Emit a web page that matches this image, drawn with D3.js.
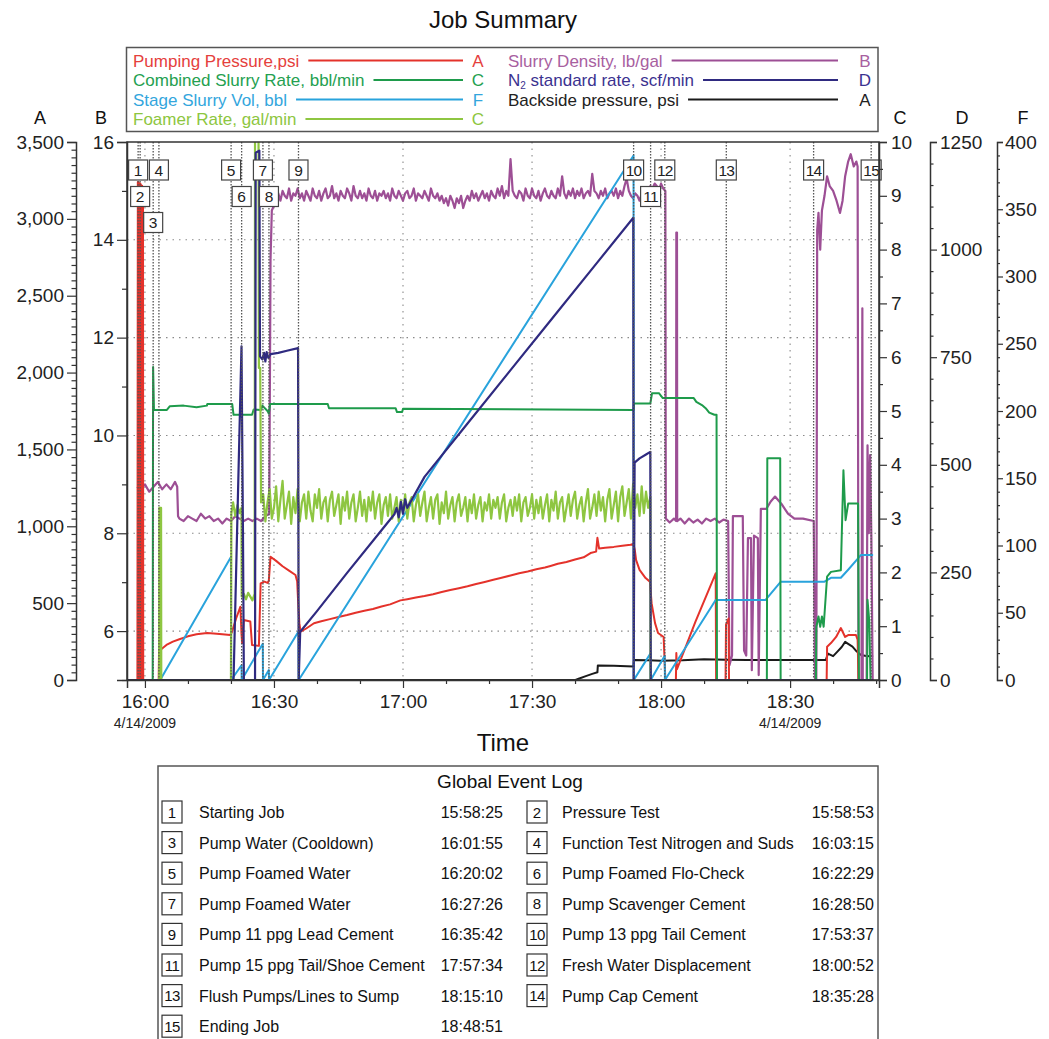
<!DOCTYPE html>
<html>
<head>
<meta charset="utf-8">
<script src="https://cdn.jsdelivr.net/npm/d3@7"></script>
<style>
body{margin:0;background:#fff}
text{font-family:"Liberation Sans",Arial,Helvetica,sans-serif}
</style>
</head>
<body>
<script>
// times are minutes after 16:00 on 4/14/2009
const pressurePts=[[-4.17,0],[-1.75,0],[-1.65,3240],[-1.55,0],[-1.45,3238],[-1.35,0],[-1.25,3232],[-1.15,0],[-1.05,3228],[-0.95,0],[-0.85,3220],[-0.75,0],[-0.65,3215],[-0.55,0],[-0.45,3205],[-0.4,0],
[3.2,0],[3.28,195],[4.0,205],[5.0,228],[6.5,250],[8,265],[10,284],[12,298],[14.46,306],[16,302],[18,297],[19.8,293],
[20.2,310],[21.2,400],[22.2,477],[22.45,300],[22.6,240],[23.0,390],[24.5,380],[24.9,228],[26.5,222],[26.9,629],[27.8,640],[28.5,632],[28.8,645],[29.2,802],[30.5,775],[32,740],[33.5,712],[35.0,683],[35.4,640],[35.6,520],[35.9,370],[36.2,314],
[37.5,335],[39.3,369],[41,382],[43,396],[45,410],[47,423],[49,438],[51,450],[53,462],[55,478],[57,492],[59.4,518],[61,526],[63,536],[65,546],[67,558],[69,572],[71,585],[73,597],[75,610],[77,625],[79,638],[81,652],[82.7,664],[85,680],[87,694],[89,706],[91,720],[93,732],[94.3,742],[96,756],[98,768],[100,784],[102,798],[103.6,826],[104.9,835],[105.2,925],[105.6,855],[107,860],[109,866],[111,874],[112.9,880],[113.55,885],
[113.9,845],[114.2,780],[115,716],[116.4,663],[117.4,640],[117.8,500],[118.6,370],[119.3,306],[120.6,280],[121.0,0],
[123.45,0],[123.55,175],[123.7,70],[128,380],[132.7,694],[132.8,0],[135.0,0],[135.1,360],[135.7,400],[135.8,0],
[158.5,0],[158.6,217],[159.5,240],[160.7,280],[161.8,338],[162.8,280],[163.6,293],[165.3,293],[165.7,262],[165.9,0],[169.3,0]];

const backsidePts=[[-4.17,0],[100.1,0],[101,10],[102.5,25],[104,40],[105.2,50],[105.3,95],[109,92],[113.6,88],[113.7,130],[117,128],[120,125],[125,128],[130,135],[135,132],[140,130],[145,130],[150,130],[155,130],[158.3,130],[158.8,172],[160,155],[161,185],[162,215],[162.8,248],[163.5,235],[164.5,217],[165.5,185],[166.5,163],[168,155],[169.3,158]];

const slurryRatePts=[[-4.17,0],[1.8,0],[1.9,5.82],[2.1,5.02],[5.1,5.02],[5.8,5.09],[9,5.1],[12,5.07],[14.4,5.1],[14.5,5.13],[20.3,5.13],[20.6,4.93],[24.9,4.93],[25.3,5.03],[27.0,5.02],[27.3,5.1],[28.5,5.0],[28.8,4.95],[29.1,5.13],[42.5,5.13],[42.8,5.05],[58.3,5.05],[58.6,4.98],[59.8,4.98],[60.0,5.04],[113.6,5.02],[113.7,5.14],[117.5,5.14],[117.9,5.33],[119.5,5.33],[120.4,5.24],[127.6,5.24],[128.2,5.17],[129.5,5.11],[130.5,5.04],[131.2,4.97],[132.4,4.93],[132.9,4.93],[133.0,0],[144.6,0],[144.7,4.12],[147.7,4.12],[147.8,0],[156.0,0],[156.1,0.99],[156.6,1.18],[157.0,0.99],[157.4,1.18],[157.8,0.99],[158.6,1.92],[159.5,2.01],[161.8,2.04],[162.4,3.9],[162.9,2.97],[163.5,3.28],[165.8,3.28],[166.0,0],[167.9,0],[168.0,1.49],[168.4,1.1],[168.7,0],[169.3,0]];

const stageVolPts=[[-4.17,0],[3.55,0],[20.0,91.5],[20.05,0],[22.45,11],[22.5,0],[27.4,27],[27.45,0],[28.8,7.4],[28.85,0],[35.7,36],[35.75,0],[113.6,390],[113.65,0],[117.55,19.8],[117.6,0],[120.85,18],[120.9,0],[132.7,59.5],[144.3,59.5],[147.8,73],[157.9,73],[159.5,76],[161.8,76],[163.5,82],[166.5,93],[169.3,93]];

const foamerPts=[[-4.17,0],[3.3,0],[3.35,3.2],[3.75,3.2],[3.8,0],[20.0,0],[20.1,3.1],[20.5,3.3],[21,3.05],[21.5,3.25],[22,3.1],[22.45,3.2],[22.5,1.55],[23,1.6],[23.5,1.5],[24,1.62],[24.5,1.55],[25,1.48],[25.5,1.6],[25.6,10.5],[26.4,10.5],[26.5,5.8],[26.8,5.8],[27.0,3.3]];
// sampled every 0.5 min from 16:27:30
const foamerBandStart=27.5, foamerBandStep=0.5;
const foamerBand=[3.45,2.95,3.3,3.55,3.0,3.2,3.6,2.95,3.35,3.7,
3.0,3.25,3.5,2.9,3.4,3.1,3.55,2.95,3.3,3.45,
3.0,3.5,3.15,2.95,3.45,3.2,3.55,3.0,3.3,3.4,
2.95,3.35,3.5,3.05,3.25,3.45,2.9,3.4,3.15,3.5,
3.0,3.3,3.45,2.95,3.2,3.5,3.05,3.35,2.95,3.4,
3.15,3.5,3.0,3.3,3.45,2.9,3.25,3.4,3.05,3.45,
3.0,3.2,3.4,2.95,3.35,3.1,3.45,3.0,3.3,3.4,
2.95,3.25,3.45,3.05,3.3,3.5,2.95,3.2,3.4,3.0,
3.35,3.45,2.9,3.3,3.1,3.5,3.0,3.25,3.4,2.95,
3.3,3.45,3.05,3.2,3.4,2.95,3.35,3.1,3.45,3.0,
3.25,3.4,2.95,3.3,3.15,3.45,3.0,3.35,3.2,3.4,
3.0,3.3,3.45,2.95,3.2,3.35,3.05,3.4,3.15,3.45,
2.95,3.3,3.4,3.05,3.2,3.45,3.0,3.35,3.1,3.4,
3.0,3.25,3.45,2.95,3.35,3.15,3.5,3.0,3.3,3.4,
2.95,3.2,3.45,3.05,3.35,3.5,3.0,3.25,3.4,2.95,
3.3,3.55,3.0,3.2,3.45,3.05,3.5,3.15,3.4,2.95,
3.35,3.55,3.0,3.25,3.5,2.95,3.4,3.6,3.05,3.3,
3.55,3.0,3.65,3.2,3.45,3.05,3.6,3.1,3.5,3.2,
3.4];
const foamerTail=[[117.55,0],[169.3,0]];

const densityPts=[[-1.84,8.95],[-1,8.9],[0,9.0],[1,8.85],[2,8.95],[3,9.05],[4,8.9],[5,9.0],[6,8.9],[7,9.05],[7.5,8.95],[7.7,8.35],[8,8.3],[9,8.25],[10,8.35],[11,8.3],[12,8.25],[13,8.4],[14,8.3],[15,8.35],[16,8.25],[17,8.3],[18,8.2],[19,8.3],[20,8.25],[21,8.35],[22,8.3],[23,8.25],[24,8.3],[25,8.25],[26,8.3],[27,8.25],[28,8.35],[28.9,8.4],[29.2,13.6],[29.5,14.6]];
// sampled every 0.5 min from 16:30:00
const densityBandStart=30, densityBandStep=0.5;
const densityBand=[14.7,14.85,14.95,14.8,15.0,14.9,14.85,15.05,14.8,14.95,
14.9,15.05,14.85,14.95,14.8,15.0,14.9,14.8,15.05,14.9,
14.85,15.0,14.8,14.95,15.05,14.85,14.9,15.1,14.85,14.95,
14.8,15.0,14.9,14.85,15.05,14.95,14.8,15.1,14.9,14.85,
15.0,14.85,14.95,14.8,15.05,14.9,14.85,15.0,14.8,14.95,
14.9,15.0,14.85,14.95,14.8,15.05,14.9,14.85,15.0,14.9,
14.8,14.95,15.0,14.85,14.9,15.05,14.8,14.95,14.9,14.85,
15.0,14.9,14.8,15.05,14.9,14.85,14.95,14.8,14.9,14.75,
14.85,14.7,14.9,14.8,14.65,14.85,14.75,14.9,14.65,14.8,
14.9,14.8,15.0,14.85,14.95,14.8,14.9,15.0,14.85,14.95,
14.8,15.0,14.9,14.85,15.05,14.9,15.1,14.85,15.0,14.9,
15.65,15.0,14.9,14.85,15.0,14.95,14.8,15.05,14.9,14.85,
15.05,14.9,14.85,15.0,14.8,14.95,15.05,14.9,14.85,15.0,
14.9,14.85,15.05,14.9,15.3,14.95,14.85,15.0,14.9,15.05,
14.85,15.0,14.9,15.05,14.85,14.95,15.0,14.9,15.35,15.0,
14.95,14.85,15.0,14.9,15.05,14.85,14.95,15.0,14.9,15.05,
14.85,15.0,14.9,15.1,15.25,15.0,14.9,14.85,14.95,14.9,
14.8,14.95,14.85,14.9,15.0,15.1,15.05,15.15,15.1,15.0,
15.15,15.05,15.0];
const densityTail=[[121.1,8.3],[122,8.22],[123,8.3],[123.5,8.25],[123.55,14.15],[123.7,14.15],[123.75,8.25],[124.5,8.3],[125.5,8.2],[126.5,8.3],[127.5,8.22],[128.5,8.28],[129.5,8.2],[130.5,8.3],[131.5,8.25],[132.5,8.3],[133.5,8.22],[134.5,8.28],[135.6,8.25],
[135.9,5.3],[136.5,5.5],[136.7,8.35],[139.0,8.35],[139.3,5.6],[139.8,5.5],[140.2,7.9],[140.9,7.9],[141.1,5.2],[141.6,7.95],[142.5,7.9],[142.7,5.1],[143.2,8.5],[144.5,8.5],[145.5,8.65],[146.5,8.75],[148.0,8.6],[149.5,8.4],[151.0,8.3],[153,8.3],[155.5,8.25],[155.8,5.0],[156.1,5.0],[156.3,14.2],[156.6,14.55],[157.0,13.8],[157.4,14.6],[158.0,14.9],[158.6,15.3],[159.2,15.1],[160,15.0],[160.8,14.8],[161.6,14.55],[162.2,14.8],[162.8,15.3],[163.5,15.6],[164.1,15.75],[164.8,15.5],[165.4,15.6],[165.7,15.5],[165.9,5.0],[166.6,5.0],[166.8,12.6],[166.9,5.0],[167.8,5.0],[168.0,9.8],[168.3,8.0],[168.6,9.6],[168.9,7.9],[169.2,5.0]];

const n2Pts=[[-4.17,0],[20.6,0],[22.45,775],[22.8,330],[23.0,0],[25.6,0],[25.75,1225],[26.6,1230],[26.75,752],[27.3,745],[27.7,760],[28.0,740],[28.3,762],[28.7,748],[29.2,757],[31,760],[33,765],[35.6,771],[35.75,0],[36.1,112],[40,160],[47,249],[55,348],[58,385],[58.5,400],[59,378],[59.5,414],[60,386],[60.5,420],[61,400],[65,472],[75,596],[85,720],[95,844],[105,968],[113.55,1074],[113.62,0],[113.85,505],[115,515],[116.5,524],[117.5,530],[117.6,0],[169.3,0]];

const eventNums=[1,2,3,4,5,6,7,8,9,10,11,12,13,14,15];
const eventNames=["Starting Job","Pressure Test","Pump Water (Cooldown)","Function Test Nitrogen and Suds","Pump Foamed Water","Pump Foamed Flo-Check","Pump Foamed Water","Pump Scavenger Cement","Pump 11 ppg Lead Cement","Pump 13 ppg Tail Cement","Pump 15 ppg Tail/Shoe Cement","Fresh Water Displacement","Flush Pumps/Lines to Sump","Pump Cap Cement","Ending Job"];
const eventTimes=["15:58:25","15:58:53","16:01:55","16:03:15","16:20:02","16:22:29","16:27:26","16:28:50","16:35:42","17:53:37","17:57:34","18:00:52","18:15:10","18:35:28","18:48:51"];

const axisATicks=[0,500,1000,1500,2000,2500,3000,3500];
const axisBTicks=[6,8,10,12,14,16];
const axisCTicks=[0,1,2,3,4,5,6,7,8,9,10];
const axisDTicks=[0,250,500,750,1000,1250];
const axisFTicks=[0,50,100,150,200,250,300,350,400];
const timeTicks=["16:00","16:30","17:00","17:30","18:00","18:30"];

const W=1049,H=1039;
const L=127,R=879,T=142,B=680;
const t0=new Date(2009,3,14,16,0,0);
const toDate=m=>new Date(+t0+m*60000);
const hms=s=>{const p=s.split(":").map(Number);return new Date(2009,3,14,p[0],p[1],p[2]||0)};

const x=d3.scaleTime().domain([toDate(-4.17),toDate(170.67)]).range([L,R]);
const yA=d3.scaleLinear().domain([0,3500]).range([B,T]);
const yB=d3.scaleLinear().domain([5,16]).range([B,T]);
const yC=d3.scaleLinear().domain([0,10]).range([B,T]);
const yD=d3.scaleLinear().domain([0,1250]).range([B,T]);
const yF=d3.scaleLinear().domain([0,400]).range([B,T]);

const col={red:"#e4322b",green:"#1e9b4b",blue:"#29a3dc",lime:"#8ec641",purple:"#9d4f95",navy:"#2f2a80",black:"#1a1a1a"};

const svg=d3.create("svg").attr("width",W).attr("height",H).attr("viewBox",`0 0 ${W} ${H}`);
d3.select("body").append(()=>svg.node());

// title
svg.append("text").attr("x",503).attr("y",28).attr("text-anchor","middle")
  .attr("font-size",24).attr("fill","#111").text("Job Summary");

// legend
svg.append("rect").attr("x",126.5).attr("y",47.5).attr("width",751.5).attr("height",84)
  .attr("fill","#fff").attr("stroke","#555").attr("stroke-width",1.5);
const legLeft=[["Pumping Pressure,psi",col.red,"A","#e5403c"],["Combined Slurry Rate, bbl/min",col.green,"C","#24a050"],["Stage Slurry Vol, bbl",col.blue,"F","#33a6dd"],["Foamer Rate, gal/min",col.lime,"C","#8dc63f"]];
const legRight=[["Slurry Density, lb/gal",col.purple,"B","#a8609f"],["N2 standard rate, scf/min",col.navy,"D","#3b3290"],["Backside pressure, psi",col.black,"A","#222"]];
function legendCol(items,tx,lineEnd,lx){
  items.forEach((d,i)=>{
    const yb=66.5+i*19.5;
    const t=svg.append("text").attr("x",tx).attr("y",yb).attr("font-size",17).attr("fill",d[3]);
    if(d[0].startsWith("N2")){
      t.append("tspan").text("N");
      t.append("tspan").attr("font-size",10).attr("dy",3).text("2");
      t.append("tspan").attr("dy",-3).text(" standard rate, scf/min");
    } else t.text(d[0]);
    const w=t.node().getComputedTextLength();
    svg.append("line").attr("x1",tx+w+9).attr("x2",lineEnd).attr("y1",yb-6).attr("y2",yb-6)
      .attr("stroke",d[1]).attr("stroke-width",2.2);
    svg.append("text").attr("x",lx).attr("y",yb).attr("text-anchor","middle").attr("font-size",17)
      .attr("fill",d[3]).text(d[2]);
  });
}
legendCol(legLeft,133,463,478);
legendCol(legRight,508,838,865);

// grid
const grid=svg.append("g").attr("stroke","#8a8a8a").attr("stroke-width",1.1).attr("stroke-dasharray","1.5,5");
[6,8,10,12,14].forEach(v=>grid.append("line").attr("x1",L).attr("x2",R).attr("y1",yB(v)).attr("y2",yB(v)));
timeTicks.forEach(s=>grid.append("line").attr("x1",x(hms(s))).attr("x2",x(hms(s))).attr("y1",T).attr("y2",B));

// data lines
svg.append("clipPath").attr("id","plotclip").append("rect").attr("x",L).attr("y",T).attr("width",R-L).attr("height",B-T);
const plot=svg.append("g").attr("clip-path","url(#plotclip)");
function draw(pts,y,color,w){
  plot.append("path").datum(pts).attr("fill","none").attr("stroke",color).attr("stroke-width",w)
    .attr("stroke-linejoin","round")
    .attr("d",d3.line().x(d=>x(toDate(d[0]))).y(d=>y(d[1])));
}
const foamerAll=foamerPts.concat(foamerBand.map((v,i)=>[foamerBandStart+i*foamerBandStep,v]),foamerTail);
const densityAll=densityPts.concat(densityBand.map((v,i)=>[densityBandStart+i*densityBandStep,v]),densityTail);
draw(backsidePts,yA,col.black,2);
draw(densityAll,yB,col.purple,2.2);
draw(pressurePts,yA,col.red,2);
draw(stageVolPts,yF,col.blue,2);
draw(slurryRatePts,yC,col.green,2);
draw(foamerAll,yC,col.lime,2.2);
draw(n2Pts,yD,col.navy,2.2);

// event markers
const evG=svg.append("g");
const labelRow=[0,1,2,0,0,1,0,1,0,0,1,0,0,0,0];
const rowY=[170,196.5,222.5];
eventTimes.forEach(s=>{
  const ex=x(hms(s));
  evG.append("line").attr("x1",ex).attr("x2",ex).attr("y1",T).attr("y2",B)
    .attr("stroke","#555").attr("stroke-width",1.3).attr("stroke-dasharray","1.5,1.5");
});
eventTimes.forEach((s,i)=>{
  const ex=x(hms(s)),cy=rowY[labelRow[i]];
  const bw=eventNums[i]>9?20:19;
  evG.append("rect").attr("x",ex-bw/2).attr("y",cy-10).attr("width",bw).attr("height",20)
    .attr("fill","#fff").attr("stroke","#444").attr("stroke-width",1.2);
  evG.append("text").attr("x",ex).attr("y",cy+5.5).attr("text-anchor","middle").attr("font-size",15.5)
    .attr("fill","#222").attr("letter-spacing",eventNums[i]>9?-0.8:0).text(eventNums[i]);
});

// frame
svg.append("rect").attr("x",L).attr("y",T).attr("width",R-L).attr("height",B-T)
  .attr("fill","none").attr("stroke","#333").attr("stroke-width",1.5);

// axes
function styleAxis(g){
  g.selectAll(".domain").attr("stroke","#333").attr("stroke-width",1.5);
  g.selectAll(".tick line").attr("stroke","#333").attr("stroke-width",1.2);
  g.selectAll(".tick text").attr("font-size",19).attr("fill","#222")
    .attr("font-family",'"Liberation Sans",Arial,sans-serif');
}
function minors(lo,hi,step,majors){
  const out=[];
  for(let v=lo;v<=hi+1e-9;v+=step){const r=Math.round(v*100)/100;if(!majors.includes(r))out.push(r);}
  return out;
}
function vAxis(gen,scale,tx,majors,step,fmt,size,pad){
  svg.append("g").attr("transform",`translate(${tx},0)`)
    .call(gen(scale).tickValues(minors(scale.domain()[0],scale.domain()[1],step,majors)).tickSize(size*0.5).tickFormat(""))
    .call(g=>g.select(".domain").remove()).call(styleAxis);
  svg.append("g").attr("transform",`translate(${tx},0)`)
    .call(gen(scale).tickValues(majors).tickSize(size).tickPadding(pad).tickFormat(fmt))
    .call(styleAxis);
}
vAxis(d3.axisLeft,yA,76,axisATicks,50,d3.format(","),9,3);
vAxis(d3.axisLeft,yB,L,axisBTicks,1,d3.format("d"),10,3);
vAxis(d3.axisRight,yC,R,axisCTicks,0.5,d3.format("d"),8,4);
vAxis(d3.axisRight,yD,930,axisDTicks,50,d3.format("d"),7,3);
vAxis(d3.axisRight,yF,997,axisFTicks,10,d3.format("d"),6,2);

const tMaj=timeTicks.map(hms);
const tMin=[];
for(let m=0;m<=170;m+=10){if(m%30!==0)tMin.push(toDate(m));}
svg.append("g").attr("transform",`translate(0,${B})`)
  .call(d3.axisBottom(x).tickValues(tMin).tickSize(4).tickFormat(""))
  .call(g=>g.select(".domain").remove()).call(styleAxis);
svg.append("g").attr("transform",`translate(0,${B})`)
  .call(d3.axisBottom(x).tickValues(tMaj).tickSize(8).tickPadding(7).tickFormat(d3.timeFormat("%H:%M")))
  .call(styleAxis);
[hms("16:00"),hms("18:30")].forEach(d=>{
  svg.append("text").attr("x",x(d)).attr("y",728).attr("text-anchor","middle").attr("font-size",14)
    .attr("fill","#222").text(d3.timeFormat("%-m/%-d/%Y")(d));
});
svg.append("text").attr("x",503).attr("y",751).attr("text-anchor","middle").attr("font-size",24)
  .attr("fill","#111").text("Time");

// axis letters
[["A",40],["B",101],["C",900],["D",962],["F",1023]].forEach(d=>{
  svg.append("text").attr("x",d[1]).attr("y",124).attr("text-anchor","middle").attr("font-size",18)
    .attr("fill","#111").text(d[0]);
});

// event log
svg.append("rect").attr("x",158).attr("y",766).attr("width",720).attr("height",290)
  .attr("fill","#fff").attr("stroke","#555").attr("stroke-width",1.5);
svg.append("text").attr("x",510).attr("y",788).attr("text-anchor","middle").attr("font-size",19)
  .attr("fill","#111").text("Global Event Log");
eventNums.forEach((n,i)=>{
  const c=i%2,r=Math.floor(i/2);
  const cy=812+r*30.6;
  const bx=c?527:162, tx=c?562:199, rx=c?874:503;
  svg.append("rect").attr("x",bx).attr("y",cy-11).attr("width",20).attr("height",22)
    .attr("fill","#fff").attr("stroke","#333").attr("stroke-width",1.2);
  svg.append("text").attr("x",bx+10).attr("y",cy+5.5).attr("text-anchor","middle").attr("font-size",15)
    .attr("fill","#111").attr("letter-spacing",n>9?-0.6:0).text(n);
  svg.append("text").attr("x",tx).attr("y",cy+6).attr("font-size",16).attr("fill","#111").text(eventNames[i]);
  svg.append("text").attr("x",rx).attr("y",cy+6).attr("text-anchor","end").attr("font-size",16)
    .attr("fill","#111").text(eventTimes[i]);
});
</script>
</body>
</html>
